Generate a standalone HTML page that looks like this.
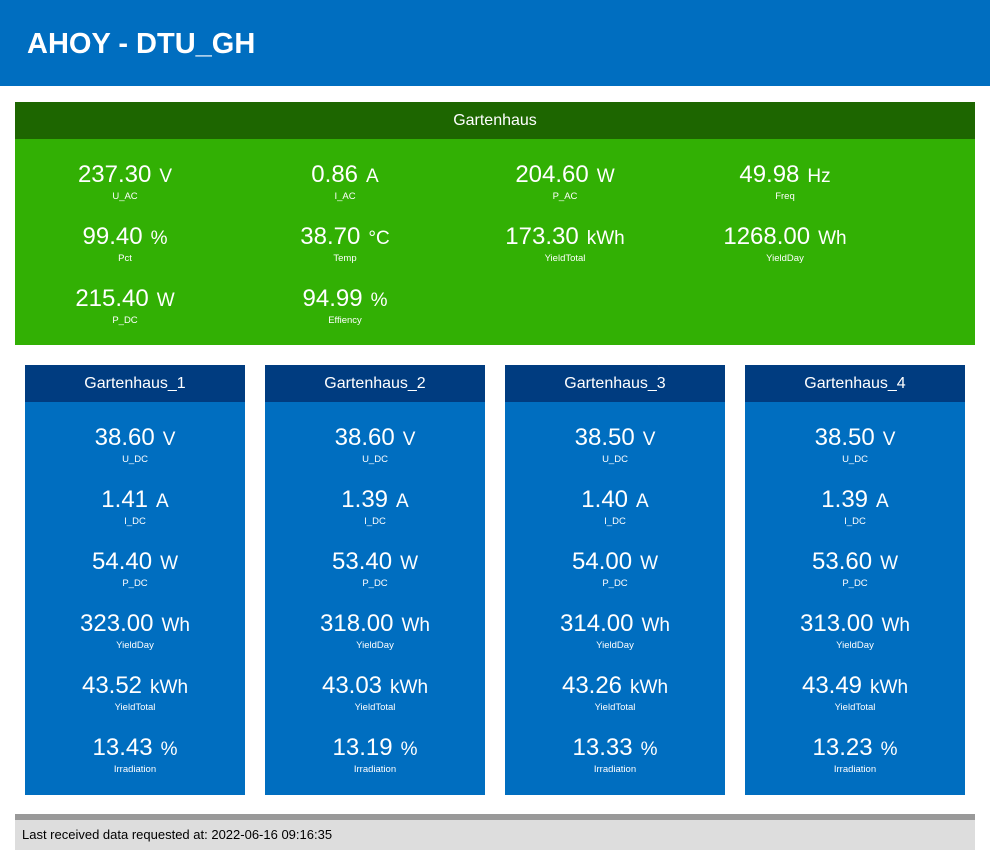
<!DOCTYPE html>
<html><head><meta charset="utf-8"><style>
*{margin:0;padding:0;box-sizing:border-box}
body{width:990px;height:856px;background:#fff;font-family:"Liberation Sans",Arial,sans-serif;position:relative;overflow:hidden;color:#fff}
.hdr{position:absolute;left:0;top:0;width:990px;height:86px;background:#006ec0}
.hdr h1{position:absolute;left:27px;top:27px;font-size:29px;font-weight:bold;line-height:34px}
.box{position:absolute}
.ht{position:absolute;left:0;top:0;width:100%;height:37px;line-height:38px;text-align:center;font-size:16px}
.m{position:absolute;width:220px;text-align:center}
.v{font-size:24px;line-height:28px;height:27px;display:block}
.v span{font-size:19px;margin-left:8px}
.l{font-size:9.5px;line-height:12px;display:block;margin-top:3px}
.foot{position:absolute;left:15px;top:814px;width:960px;height:36px;background:#ddd;border-top:6px solid #999;color:#000;font-size:13px;line-height:30px;padding-left:7px}
</style></head><body>
<div class="hdr"><h1>AHOY - DTU_GH</h1></div>

<div class="box" style="left:15px;top:102px;width:960px;height:243px;background:#32b004">
<div class="ht" style="background:#1d6600">Gartenhaus</div>
<div class="m" style="left:0;top:59px"><span class="v">237.30<span>V</span></span><span class="l">U_AC</span></div>
<div class="m" style="left:220px;top:59px"><span class="v">0.86<span>A</span></span><span class="l">I_AC</span></div>
<div class="m" style="left:440px;top:59px"><span class="v">204.60<span>W</span></span><span class="l">P_AC</span></div>
<div class="m" style="left:660px;top:59px"><span class="v">49.98<span>Hz</span></span><span class="l">Freq</span></div>
<div class="m" style="left:0;top:121px"><span class="v">99.40<span>%</span></span><span class="l">Pct</span></div>
<div class="m" style="left:220px;top:121px"><span class="v">38.70<span>°C</span></span><span class="l">Temp</span></div>
<div class="m" style="left:440px;top:121px"><span class="v">173.30<span>kWh</span></span><span class="l">YieldTotal</span></div>
<div class="m" style="left:660px;top:121px"><span class="v">1268.00<span>Wh</span></span><span class="l">YieldDay</span></div>
<div class="m" style="left:0;top:183px"><span class="v">215.40<span>W</span></span><span class="l">P_DC</span></div>
<div class="m" style="left:220px;top:183px"><span class="v">94.99<span>%</span></span><span class="l">Effiency</span></div>
</div>

<div class="box" style="left:25px;top:365px;width:220px;height:430px;background:#006ec0">
<div class="ht" style="background:#003c80">Gartenhaus_1</div>
<div class="m" style="left:0;top:59px"><span class="v">38.60<span>V</span></span><span class="l">U_DC</span></div>
<div class="m" style="left:0;top:121px"><span class="v">1.41<span>A</span></span><span class="l">I_DC</span></div>
<div class="m" style="left:0;top:183px"><span class="v">54.40<span>W</span></span><span class="l">P_DC</span></div>
<div class="m" style="left:0;top:245px"><span class="v">323.00<span>Wh</span></span><span class="l">YieldDay</span></div>
<div class="m" style="left:0;top:307px"><span class="v">43.52<span>kWh</span></span><span class="l">YieldTotal</span></div>
<div class="m" style="left:0;top:369px"><span class="v">13.43<span>%</span></span><span class="l">Irradiation</span></div>
</div>
<div class="box" style="left:265px;top:365px;width:220px;height:430px;background:#006ec0">
<div class="ht" style="background:#003c80">Gartenhaus_2</div>
<div class="m" style="left:0;top:59px"><span class="v">38.60<span>V</span></span><span class="l">U_DC</span></div>
<div class="m" style="left:0;top:121px"><span class="v">1.39<span>A</span></span><span class="l">I_DC</span></div>
<div class="m" style="left:0;top:183px"><span class="v">53.40<span>W</span></span><span class="l">P_DC</span></div>
<div class="m" style="left:0;top:245px"><span class="v">318.00<span>Wh</span></span><span class="l">YieldDay</span></div>
<div class="m" style="left:0;top:307px"><span class="v">43.03<span>kWh</span></span><span class="l">YieldTotal</span></div>
<div class="m" style="left:0;top:369px"><span class="v">13.19<span>%</span></span><span class="l">Irradiation</span></div>
</div>
<div class="box" style="left:505px;top:365px;width:220px;height:430px;background:#006ec0">
<div class="ht" style="background:#003c80">Gartenhaus_3</div>
<div class="m" style="left:0;top:59px"><span class="v">38.50<span>V</span></span><span class="l">U_DC</span></div>
<div class="m" style="left:0;top:121px"><span class="v">1.40<span>A</span></span><span class="l">I_DC</span></div>
<div class="m" style="left:0;top:183px"><span class="v">54.00<span>W</span></span><span class="l">P_DC</span></div>
<div class="m" style="left:0;top:245px"><span class="v">314.00<span>Wh</span></span><span class="l">YieldDay</span></div>
<div class="m" style="left:0;top:307px"><span class="v">43.26<span>kWh</span></span><span class="l">YieldTotal</span></div>
<div class="m" style="left:0;top:369px"><span class="v">13.33<span>%</span></span><span class="l">Irradiation</span></div>
</div>
<div class="box" style="left:745px;top:365px;width:220px;height:430px;background:#006ec0">
<div class="ht" style="background:#003c80">Gartenhaus_4</div>
<div class="m" style="left:0;top:59px"><span class="v">38.50<span>V</span></span><span class="l">U_DC</span></div>
<div class="m" style="left:0;top:121px"><span class="v">1.39<span>A</span></span><span class="l">I_DC</span></div>
<div class="m" style="left:0;top:183px"><span class="v">53.60<span>W</span></span><span class="l">P_DC</span></div>
<div class="m" style="left:0;top:245px"><span class="v">313.00<span>Wh</span></span><span class="l">YieldDay</span></div>
<div class="m" style="left:0;top:307px"><span class="v">43.49<span>kWh</span></span><span class="l">YieldTotal</span></div>
<div class="m" style="left:0;top:369px"><span class="v">13.23<span>%</span></span><span class="l">Irradiation</span></div>
</div>

<div class="foot">Last received data requested at: 2022-06-16 09:16:35</div>
</body></html>
